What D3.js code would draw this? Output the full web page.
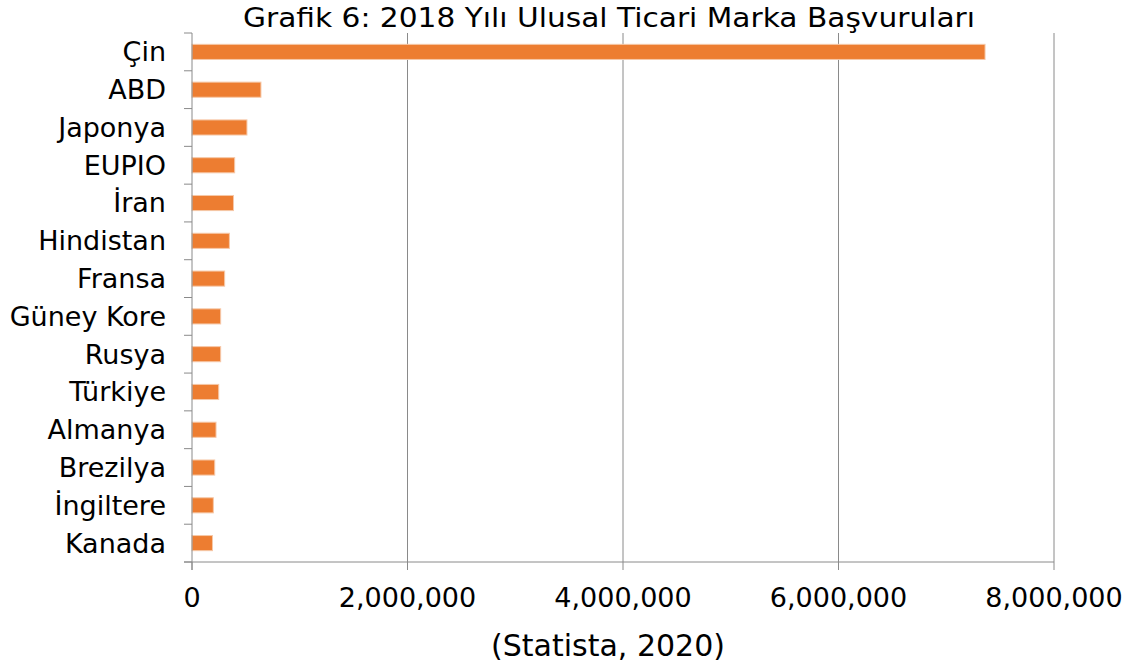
<!DOCTYPE html>
<html><head><meta charset="utf-8">
<script src="https://cdn.jsdelivr.net/npm/d3@7"></script>
<style>body{margin:0;background:#fff}svg{display:block}text{font-family:"DejaVu Sans",Verdana,sans-serif;fill:#000}</style>
</head><body><svg id="c" width="1128" height="669"></svg>
<script>
const categories = ["Çin","ABD","Japonya","EUPIO","İran","Hindistan","Fransa","Güney Kore","Rusya","Türkiye","Almanya","Brezilya","İngiltere","Kanada"];
const values = [7360000,640000,510000,396000,385000,347000,303000,266000,266000,248000,223000,211000,198000,190000];
const xTicks = [0,2000000,4000000,6000000,8000000];
const title = "Grafik 6: 2018 Yılı Ulusal Ticari Marka Başvuruları";
const source = "(Statista, 2020)";

const svg = d3.select("#c");
const L = 192, R = 1054, T = 33, B = 562;
const x = d3.scaleLinear().domain([0, 8000000]).range([L, R]);
const y = d3.scaleBand().domain(categories).range([T, B]).paddingInner(0.6).paddingOuter(0.3);
const axisCol = "#8a8a8a";

// gridlines
svg.append("g").selectAll("line").data(xTicks.slice(1)).join("line")
  .attr("x1", d => x(d)).attr("x2", d => x(d)).attr("y1", T).attr("y2", B)
  .attr("stroke", axisCol).attr("stroke-width", 1);

// bars
svg.append("g").selectAll("rect").data(categories).join("rect")
  .attr("x", x(0)).attr("y", d => y(d))
  .attr("width", (d, i) => x(values[i]) - x(0))
  .attr("height", y.bandwidth())
  .attr("fill", "#ED7D31").attr("stroke", "#f6c8a8").attr("stroke-width", 1);

// y axis line + ticks at band boundaries
const step = (B - T) / categories.length;
svg.append("line").attr("x1", L).attr("x2", L).attr("y1", T).attr("y2", B + 8).attr("stroke", axisCol);
svg.append("g").selectAll("line").data(d3.range(categories.length + 1)).join("line")
  .attr("x1", L - 8).attr("x2", L).attr("y1", i => T + i * step).attr("y2", i => T + i * step)
  .attr("stroke", axisCol);

// x axis line + ticks
svg.append("line").attr("x1", L - 8).attr("x2", R).attr("y1", B).attr("y2", B).attr("stroke", axisCol);
svg.append("g").selectAll("line").data(xTicks).join("line")
  .attr("x1", d => x(d)).attr("x2", d => x(d)).attr("y1", B).attr("y2", B + 8).attr("stroke", axisCol);

// category labels
svg.append("g").selectAll("text").data(categories).join("text")
  .attr("x", 166).attr("y", d => y(d) + y.bandwidth() / 2)
  .attr("dy", "0.35em").attr("text-anchor", "end").attr("font-size", 27).text(d => d);

// x tick labels
const fmt = d3.format(",");
svg.append("g").selectAll("text").data(xTicks).join("text")
  .attr("x", d => x(d)).attr("y", 607).attr("text-anchor", "middle").attr("font-size", 27)
  .text(d => fmt(d));

svg.append("text").attr("x", 609).attr("y", 27).attr("text-anchor", "middle").attr("font-size", 27)
  .attr("textLength", 732).attr("lengthAdjust", "spacingAndGlyphs").text(title);
svg.append("text").attr("x", 608).attr("y", 656).attr("text-anchor", "middle").attr("font-size", 30).text(source);
</script></body></html>
